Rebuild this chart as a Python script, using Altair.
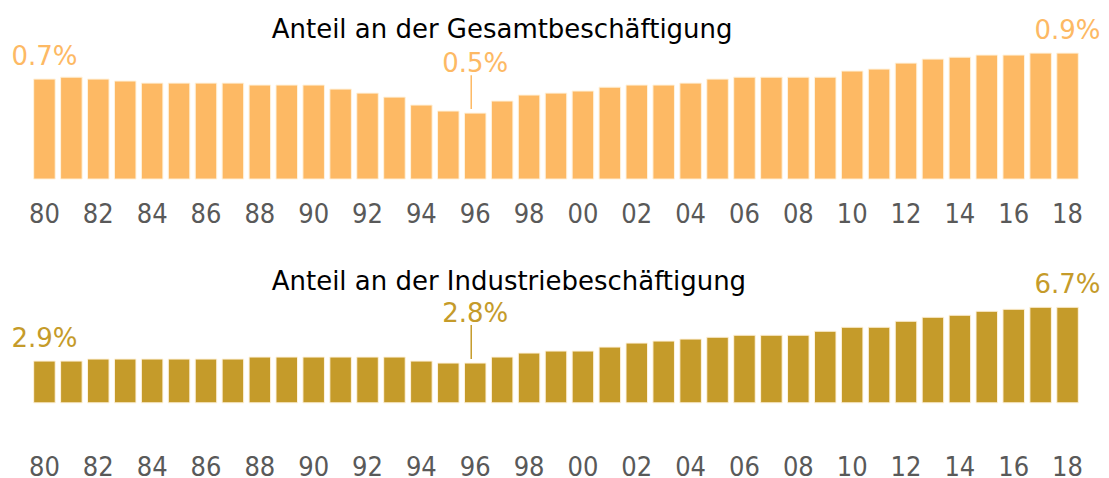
import altair as alt
import pandas as pd

years = [str(y) for y in range(1980, 2019)]
tick_years = [str(y) for y in range(1980, 2019, 2)]

gesamt = [0.720, 0.734, 0.720, 0.706, 0.691, 0.691, 0.691, 0.691, 0.677, 0.677,
          0.677, 0.648, 0.619, 0.590, 0.533, 0.490, 0.475, 0.562, 0.605, 0.619,
          0.634, 0.662, 0.677, 0.677, 0.691, 0.720, 0.734, 0.734, 0.734, 0.734,
          0.778, 0.792, 0.835, 0.864, 0.878, 0.893, 0.893, 0.907, 0.907]

industrie = [2.93, 2.93, 3.07, 3.07, 3.07, 3.07, 3.07, 3.07, 3.21, 3.21,
             3.21, 3.21, 3.21, 3.21, 2.93, 2.79, 2.79, 3.21, 3.49, 3.63,
             3.63, 3.91, 4.19, 4.33, 4.47, 4.60, 4.74, 4.74, 4.74, 5.02,
             5.30, 5.30, 5.72, 6.00, 6.14, 6.42, 6.56, 6.70, 6.70]

title_top = "Anteil an der Gesamtbeschäftigung"
title_bottom = "Anteil an der Industriebeschäftigung"

end_years = ["1980", "2018"]
end_labels_top = ["0.7%", "0.9%"]
end_labels_bottom = ["2.9%", "6.7%"]
min_year = "1996"
min_label_top = "0.5%"
min_label_bottom = "2.8%"

FONT = "DejaVu Sans"
AXIS_FONT = "DejaVu Sans Condensed"


def panel(values, color, title, end_labels, min_label, domain_max, height,
          label_padding, title_offset):
    df = pd.DataFrame({"year": years, "value": values})
    lookup = dict(zip(years, values))
    ends = pd.DataFrame({"year": end_years,
                         "value": [lookup[y] for y in end_years],
                         "label": end_labels})
    mins = pd.DataFrame({"year": [min_year], "value": [lookup[min_year]],
                         "label": [min_label]})
    x = alt.X("year:N",
              scale=alt.Scale(domain=years, paddingInner=0.2, paddingOuter=0.1),
              axis=alt.Axis(values=tick_years,
                            labelExpr="substring(datum.label, 2, 4)",
                            title=None, domain=False, ticks=False, grid=False,
                            labelAngle=0, labelFontSize=27, labelColor="#595959",
                            labelFont=AXIS_FONT, labelPadding=label_padding))
    y = alt.Y("value:Q", scale=alt.Scale(domain=[0, domain_max]), axis=None)

    bars = alt.Chart(df).mark_bar(color=color, stroke="#FFF3DE",
                                  strokeWidth=1).encode(x=x, y=y)
    end_text = alt.Chart(ends).mark_text(
        dy=-14, fontSize=26, font=FONT, color=color, baseline="alphabetic",
        align="center").encode(x=x, y=y, text="label:N")
    min_text = alt.Chart(mins).mark_text(
        dy=-41, fontSize=26, font=FONT, color=color, baseline="alphabetic",
        align="center").encode(x=x, y=y, text="label:N")
    min_rule = alt.Chart(mins).mark_rule(
        color=color, strokeWidth=1.5, yOffset=-4, y2Offset=-38,
        xOffset=-4).encode(x=x, y=y, y2=alt.Y2("value:Q"))

    return alt.layer(bars, end_text, min_text, min_rule).properties(
        width=1051, height=height,
        title=alt.TitleParams(title, anchor="start", frame="group", dx=241,
                              fontSize=26, font=FONT, fontWeight="normal",
                              color="#000000", baseline="alphabetic",
                              offset=title_offset))


top = panel(gesamt, "#FDB964", title_top, end_labels_top, min_label_top,
            1.0, 139, 22, -46)
bottom = panel(industrie, "#C59B2A", title_bottom, end_labels_bottom,
               min_label_bottom, 7.0, 100, 52, -44)

chart = alt.vconcat(top, bottom, spacing=124, bounds="flush").properties(
    padding={"left": 3, "top": 8, "right": 0, "bottom": 0}
).configure_view(stroke=None)

chart.save("out.html", embed_options={"renderer": "svg", "actions": False})
